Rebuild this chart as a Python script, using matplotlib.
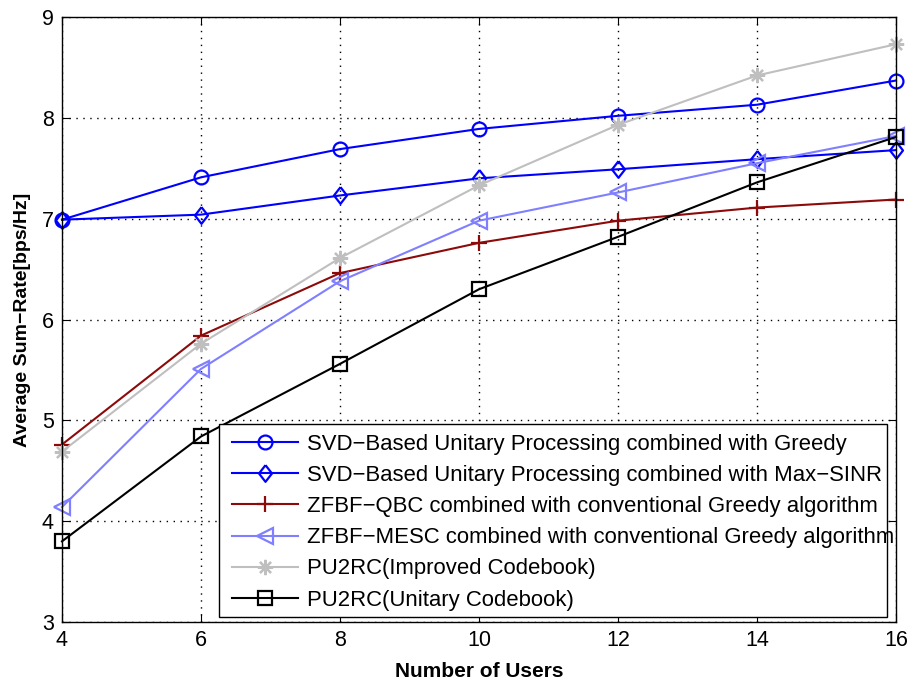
import matplotlib
matplotlib.use("Agg")
import matplotlib.pyplot as plt
from matplotlib.patches import Rectangle

users = [4, 6, 8, 10, 12, 14, 16]

svd_greedy = [6.99, 7.41, 7.69, 7.89, 8.02, 8.13, 8.37]
svd_maxsinr = [6.99, 7.04, 7.23, 7.40, 7.49, 7.59, 7.68]
zfbf_qbc = [4.76, 5.84, 6.46, 6.76, 6.98, 7.11, 7.19]
zfbf_mesc = [4.14, 5.51, 6.38, 6.98, 7.26, 7.55, 7.82]
pu2rc_improved = [4.69, 5.76, 6.61, 7.33, 7.93, 8.42, 8.73]
pu2rc_unitary = [3.80, 4.84, 5.56, 6.30, 6.82, 7.36, 7.81]

labels = [
    "SVD\u2212Based Unitary Processing combined with Greedy",
    "SVD\u2212Based Unitary Processing combined with Max\u2212SINR",
    "ZFBF\u2212QBC combined with conventional Greedy algorithm",
    "ZFBF\u2212MESC combined with conventional Greedy algorithm",
    "PU2RC(Improved Codebook)",
    "PU2RC(Unitary Codebook)",
]

plt.rcParams["font.family"] = ["Liberation Sans", "DejaVu Sans"]

fig = plt.figure(figsize=(9.14, 6.82), dpi=100)
ax = fig.add_axes([62 / 914, 1 - 622 / 682, (896 - 62) / 914, (622 - 17) / 682])

# MATLAB-style diamond (slightly narrower than tall) and 8-spoke asterisk
diamond = [(0, 1), (0.78, 0), (0, -1), (-0.78, 0), (0, 1)]
asterisk = (8, 2, 0)

styles = [
    (svd_greedy, dict(color="#0000ff", marker="o", markersize=10, mfc="none", mew=1.6)),
    (svd_maxsinr, dict(color="#0000ff", marker=diamond, markersize=12, mfc="none", mew=1.6)),
    (zfbf_qbc, dict(color="#8c0a0a", marker="+", markersize=12, mew=1.6)),
    (zfbf_mesc, dict(color="#7f7fff", marker="<", markersize=11, mfc="none", mew=1.6)),
    (pu2rc_improved, dict(color="#bfbfbf", marker=asterisk, markersize=11, mew=1.6)),
    (pu2rc_unitary, dict(color="#000000", marker="s", markersize=10, mfc="none", mew=1.6)),
]

for (vals, st), lab in zip(styles, labels):
    ax.plot(users, vals, linewidth=1.5, label=lab, clip_on=False, **st)

ax.set_xlim(4, 16)
ax.set_ylim(3, 9)
ax.set_xticks(users)
ax.set_yticks(range(3, 10))
ax.grid(True, color="black", linestyle=(0, (1, 4)), linewidth=1.0)
ax.tick_params(direction="in", length=6, top=True, right=True,
               labelsize=15.5, colors="black", pad=6)
for sp in ax.spines.values():
    sp.set_linewidth(1.0)

ax.set_xlabel("Number of Users", fontsize=15, fontweight="bold", labelpad=8)
ax.set_ylabel("Average Sum\u2212Rate[bps/Hz]", fontsize=14, fontweight="bold", labelpad=8)

# legend box drawn as a fixed white panel; entries placed on top of it
box = Rectangle((0.188, 0.008), 0.801, 0.319, transform=ax.transAxes,
                facecolor="white", edgecolor="black", linewidth=1.0, zorder=4)
ax.add_patch(box)

leg = ax.legend(loc="upper left", bbox_to_anchor=(0.204, 0.311), fontsize=15.9,
                frameon=False, handlelength=3.0, handletextpad=0.4,
                labelspacing=0.46, borderpad=0, borderaxespad=0)
leg.set_zorder(5)

fig.savefig("out.png", dpi=100)
